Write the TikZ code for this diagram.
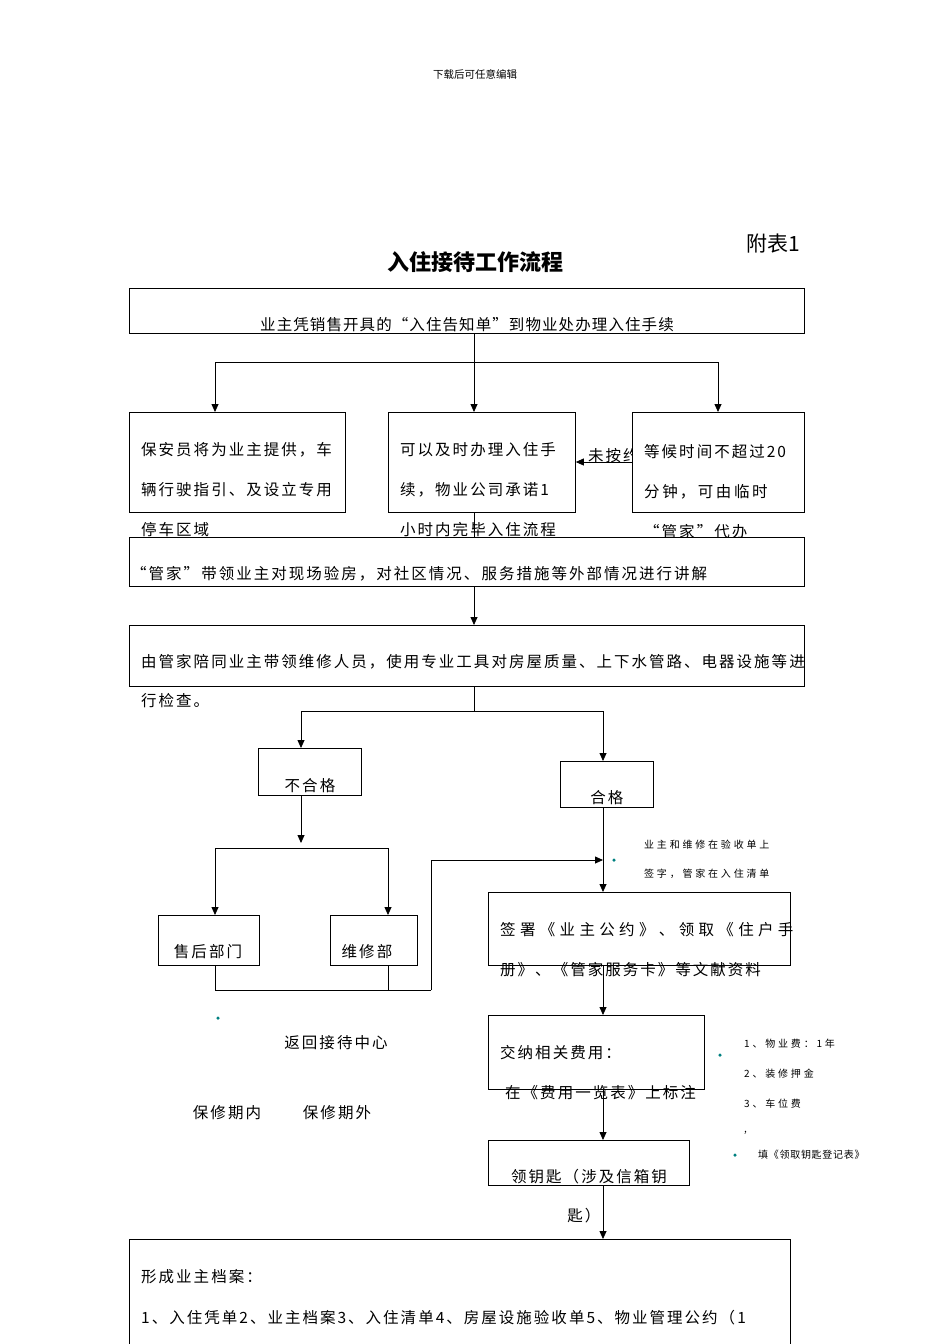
\documentclass[tikz,border=0pt]{standalone}
\usepackage{fontspec}
\setmainfont{Noto Sans CJK SC}
\newfontfamily\spc{Noto Sans CJK SC}[LetterSpace=13]
\newfontfamily\spm{Noto Sans CJK SC}[LetterSpace=7]
\newfontfamily\sps{Noto Sans CJK SC}[LetterSpace=28]
\usetikzlibrary{arrows.meta}
\begin{document}
\begin{tikzpicture}[x=1pt,y=-1pt,
 bx/.style={draw,line width=0.8pt,fill=white},
 tx/.style={anchor=west,inner sep=0,font=\spc\fontsize{15.5}{18}\selectfont},
 sm/.style={anchor=west,inner sep=0,font=\sps\fontsize{10}{12}\selectfont},
 ar/.style={-{Triangle[length=8pt,width=7pt]},line width=0.8pt},
 ln/.style={line width=0.8pt},
 dot/.style={circle,fill=teal,inner sep=0,minimum size=3.5pt}]
\useasboundingbox (0,0) rectangle (950,1344);
\node[font=\fontsize{10.5}{12}\selectfont] (hd) at (475,74) {下载后可任意编辑};
\node[font=\fontsize{21}{24}\selectfont,anchor=west,inner sep=0] (fb) at (746,244) {附表1};
\node[font=\bfseries\fontsize{22}{26}\selectfont] (tt) at (475,262) {入住接待工作流程};
% box 1
\node[bx,minimum width=675,minimum height=45,anchor=north west] (b1) at (129,288) {};
\node[tx,anchor=center,font=\spm\fontsize{15.5}{18}\selectfont] (t1) at (467,325) {业主凭销售开具的“入住告知单”到物业处办理入住手续};
\coordinate (s1) at (474,362); \coordinate (sl) at (215,362); \coordinate (sr) at (718,362);
\draw[ln] (b1.south -| s1) -- (s1); \draw[ln] (sl) -- (sr);
\node[tx] (wa) at (588,456) {未按约};
\node[bx,minimum width=216,minimum height=100,anchor=north west] (bl) at (129,412) {};
\node[bx,minimum width=187,minimum height=100,anchor=north west] (bm) at (388,412) {};
\node[bx,minimum width=172,minimum height=100,anchor=north west] (br) at (632,412) {};
\draw[ar] (sl) -- (bl.north -| sl); \draw[ar] (s1) -- (bm.north -| s1); \draw[ar] (sr) -- (br.north -| sr);
\draw[ar] (br.west |- 0,462) -- (bm.east |- 0,462);
\node[tx] at (141,450) {保安员将为业主提供，车};
\node[tx] at (141,490) {辆行驶指引、及设立专用};
\node[tx] at (141,530) {停车区域};
\node[tx] at (400,450) {可以及时办理入住手};
\node[tx] at (400,490) {续，物业公司承诺1};
\node[tx] at (400,530) {小时内完毕入住流程};
\node[tx] at (644,452) {等候时间不超过20};
\node[tx] at (644,492) {分\,钟，\,可\,由\,临\,时};
\node[tx] at (644,532) {“管家”代办};
\node[bx,minimum width=675,minimum height=49,anchor=north west] (b4) at (129,537) {};
\draw[ln] (bm.south -| s1) -- (b4.north -| s1);
\node[tx] at (131,574) {“管家”带领业主对现场验房，对社区情况、服务措施等外部情况进行讲解};
\node[bx,minimum width=675,minimum height=61,anchor=north west] (b5) at (129,625) {};
\draw[ar] (b4.south -| s1) -- (b5.north -| s1);
\node[tx] at (141,662) {由管家陪同业主带领维修人员，使用专业工具对房屋质量、上下水管路、电器设施等进};
\node[tx] at (141,701) {行检查。};
\coordinate (s2) at (474,711); \coordinate (s2l) at (301,711); \coordinate (s2r) at (603,711);
\draw[ln] (b5.south -| s2) -- (s2); \draw[ln] (s2l) -- (s2r);
\node[bx,minimum width=103,minimum height=47,anchor=north west] (bn) at (258,748) {};
\node[bx,minimum width=93,minimum height=46,anchor=north west] (bp) at (560,761) {};
\node[tx,anchor=center] at (310,786) {不合格};
\node[tx,anchor=center] at (607,798) {合格};
\draw[ar] (s2l) -- (bn.north -| s2l); \draw[ar] (s2r) -- (bp.north -| s2r);
\coordinate (s3) at (301,848); \coordinate (s3l) at (215,848); \coordinate (s3r) at (388,848);
\draw[ar] (bn.south -| s3) -- (301,843);
\draw[ln] (s3l) -- (s3r);
\node[bx,minimum width=101,minimum height=50,anchor=north west] (bs) at (158,915) {};
\node[bx,minimum width=87,minimum height=50,anchor=north west] (bw) at (330,915) {};
\node[tx,anchor=center] at (208,952) {售后部门};
\node[tx,anchor=center] at (367,952) {维修部};
\draw[ar] (s3l) -- (bs.north -| s3l); \draw[ar] (s3r) -- (bw.north -| s3r);
\coordinate (r1) at (215,990); \coordinate (r2) at (431,990); \coordinate (r3) at (431,860); \coordinate (r4) at (603,860);
\draw[ln] (bs.south -| r1) -- (r1) -- (r2); \draw[ln] (bw.south -| s3r) -- (s3r |- r1);
\draw[ar] (r2) -- (r3) -- (r4);
\node[bx,minimum width=302,minimum height=73,anchor=north west] (b6) at (488,892) {};
\draw[ar] (bp.south -| r4) -- (b6.north -| r4);
\node[dot] (d1) at (614,860) {};
\node[sm] at (644,845) {业主和维修在验收单上};
\node[sm] at (644,874) {签字，管家在入住清单};
\node[tx,font=\sps\fontsize{15.5}{18}\selectfont] at (500,930) {签署《业主公约》、领取《住户手};
\node[tx] at (500,970) {册》、《管家服务卡》等文献资料};
\node[bx,minimum width=216,minimum height=74,anchor=north west] (b7) at (488,1015) {};
\draw[ar] (b6.south -| r4) -- (b7.north -| r4);
\node[tx] at (500,1053) {交纳相关费用：};
\node[tx] at (505,1093) {在《费用一览表》上标注};
\node[dot] (d2) at (720,1055) {};
\node[sm] at (744,1044) {1、物业费：1年};
\node[sm] at (744,1074) {2、装修押金};
\node[sm] at (744,1104) {3、车位费};
\node[sm] at (744,1133) {,};
\node[dot] (d3) at (735,1155) {};
\node[sm,font=\spm\fontsize{10}{12}\selectfont] at (758,1155) {填《领取钥匙登记表》};
\node[bx,minimum width=201,minimum height=45,anchor=north west] (b8) at (488,1140) {};
\draw[ar] (b7.south -| r4) -- (b8.north -| r4);
\node[tx,anchor=center] at (589,1177) {领钥匙（涉及信箱钥};
\node[tx,anchor=center] at (584,1216) {匙）};
\node[bx,minimum width=661,minimum height=105,anchor=north west] (b9) at (129,1239) {};
\draw[ar] (b8.south -| r4) -- (b9.north -| r4);
\node[tx] at (141,1277) {形成业主档案：};
\node[tx] at (141,1318) {1、入住凭单2、业主档案3、入住清单4、房屋设施验收单5、物业管理公约（1};
\node[dot] (d4) at (218,1018) {};
\node[tx,anchor=center] at (336,1043) {返回接待中心};
\node[tx,anchor=center] at (227,1113) {保修期内};
\node[tx,anchor=center] at (337,1113) {保修期外};
\end{tikzpicture}
\end{document}
